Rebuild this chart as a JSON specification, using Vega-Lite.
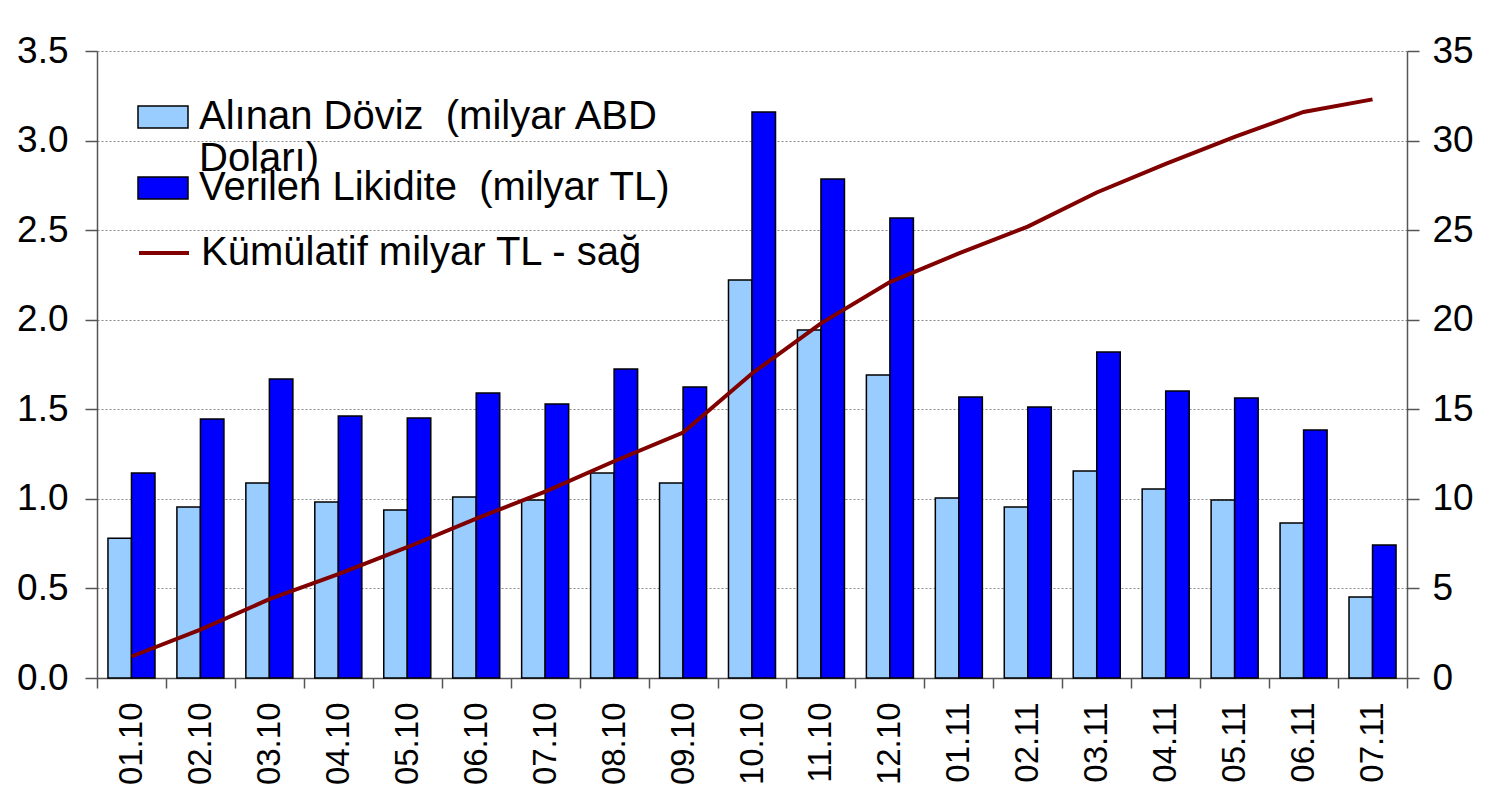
{
  "$schema": "https://vega.github.io/schema/vega-lite/v6.json",
  "autosize": "none",
  "width": 1310,
  "height": 627,
  "padding": {"left": 97, "top": 51, "right": 80, "bottom": 125},
  "background": "white",
  "config": {
    "view": {"stroke": null},
    "font": "Liberation Sans",
    "axis": {"labelFont": "Liberation Sans", "labelColor": "black", "domainColor": "#555", "tickColor": "#555", "domainWidth": 1.5, "tickWidth": 1.5},
    "legend": {"labelFont": "Liberation Sans", "title": null, "orient": "none", "labelFontSize": 40, "labelColor": "black", "labelOffset": 10, "labelLimit": 1000, "symbolSize": 2500, "symbolOpacity": 1}
  },
  "datasets": {
    "bars": [
      {"month": "01.10", "series": "Alınan Döviz  (milyar ABD Doları)", "value": 0.78},
      {"month": "01.10", "series": "Verilen Likidite  (milyar TL)", "value": 1.145},
      {"month": "02.10", "series": "Alınan Döviz  (milyar ABD Doları)", "value": 0.955},
      {"month": "02.10", "series": "Verilen Likidite  (milyar TL)", "value": 1.446},
      {"month": "03.10", "series": "Alınan Döviz  (milyar ABD Doları)", "value": 1.089},
      {"month": "03.10", "series": "Verilen Likidite  (milyar TL)", "value": 1.669},
      {"month": "04.10", "series": "Alınan Döviz  (milyar ABD Doları)", "value": 0.983},
      {"month": "04.10", "series": "Verilen Likidite  (milyar TL)", "value": 1.463},
      {"month": "05.10", "series": "Alınan Döviz  (milyar ABD Doları)", "value": 0.938},
      {"month": "05.10", "series": "Verilen Likidite  (milyar TL)", "value": 1.452},
      {"month": "06.10", "series": "Alınan Döviz  (milyar ABD Doları)", "value": 1.011},
      {"month": "06.10", "series": "Verilen Likidite  (milyar TL)", "value": 1.591},
      {"month": "07.10", "series": "Alınan Döviz  (milyar ABD Doları)", "value": 0.994},
      {"month": "07.10", "series": "Verilen Likidite  (milyar TL)", "value": 1.53},
      {"month": "08.10", "series": "Alınan Döviz  (milyar ABD Doları)", "value": 1.145},
      {"month": "08.10", "series": "Verilen Likidite  (milyar TL)", "value": 1.725},
      {"month": "09.10", "series": "Alınan Döviz  (milyar ABD Doları)", "value": 1.089},
      {"month": "09.10", "series": "Verilen Likidite  (milyar TL)", "value": 1.625},
      {"month": "10.10", "series": "Alınan Döviz  (milyar ABD Doları)", "value": 2.222},
      {"month": "10.10", "series": "Verilen Likidite  (milyar TL)", "value": 3.16},
      {"month": "11.10", "series": "Alınan Döviz  (milyar ABD Doları)", "value": 1.943},
      {"month": "11.10", "series": "Verilen Likidite  (milyar TL)", "value": 2.786},
      {"month": "12.10", "series": "Alınan Döviz  (milyar ABD Doları)", "value": 1.692},
      {"month": "12.10", "series": "Verilen Likidite  (milyar TL)", "value": 2.568},
      {"month": "01.11", "series": "Alınan Döviz  (milyar ABD Doları)", "value": 1.005},
      {"month": "01.11", "series": "Verilen Likidite  (milyar TL)", "value": 1.569},
      {"month": "02.11", "series": "Alınan Döviz  (milyar ABD Doları)", "value": 0.955},
      {"month": "02.11", "series": "Verilen Likidite  (milyar TL)", "value": 1.513},
      {"month": "03.11", "series": "Alınan Döviz  (milyar ABD Doları)", "value": 1.156},
      {"month": "03.11", "series": "Verilen Likidite  (milyar TL)", "value": 1.82},
      {"month": "04.11", "series": "Alınan Döviz  (milyar ABD Doları)", "value": 1.055},
      {"month": "04.11", "series": "Verilen Likidite  (milyar TL)", "value": 1.602},
      {"month": "05.11", "series": "Alınan Döviz  (milyar ABD Doları)", "value": 0.994},
      {"month": "05.11", "series": "Verilen Likidite  (milyar TL)", "value": 1.563},
      {"month": "06.11", "series": "Alınan Döviz  (milyar ABD Doları)", "value": 0.865},
      {"month": "06.11", "series": "Verilen Likidite  (milyar TL)", "value": 1.385},
      {"month": "07.11", "series": "Alınan Döviz  (milyar ABD Doları)", "value": 0.452},
      {"month": "07.11", "series": "Verilen Likidite  (milyar TL)", "value": 0.743}
    ],
    "cum": [
      {"month": "01.10", "cum": 1.2},
      {"month": "02.10", "cum": 2.7},
      {"month": "03.10", "cum": 4.4},
      {"month": "04.10", "cum": 5.8},
      {"month": "05.10", "cum": 7.3},
      {"month": "06.10", "cum": 8.9},
      {"month": "07.10", "cum": 10.4},
      {"month": "08.10", "cum": 12.1},
      {"month": "09.10", "cum": 13.7},
      {"month": "10.10", "cum": 17.0},
      {"month": "11.10", "cum": 19.8},
      {"month": "12.10", "cum": 22.1},
      {"month": "01.11", "cum": 23.7},
      {"month": "02.11", "cum": 25.2},
      {"month": "03.11", "cum": 27.1},
      {"month": "04.11", "cum": 28.7},
      {"month": "05.11", "cum": 30.2},
      {"month": "06.11", "cum": 31.6},
      {"month": "07.11", "cum": 32.3}
    ]
  },
  "layer": [
    {
      "data": {"name": "bars"},
      "encoding": {
        "x": {
          "field": "month", "type": "nominal", "sort": null,
          "scale": {"paddingInner": 0, "paddingOuter": 0},
          "axis": {"title": null, "labelAngle": -90, "labelFontSize": 33, "tickBand": "extent", "tickSize": 10, "labelPadding": 14, "grid": false}
        },
        "xOffset": {
          "field": "series", "type": "nominal",
          "scale": {"domain": ["Alınan Döviz  (milyar ABD Doları)", "Verilen Likidite  (milyar TL)"], "paddingInner": 0, "paddingOuter": 0.466}
        },
        "y": {
          "field": "value", "type": "quantitative",
          "scale": {"domain": [0, 3.5], "nice": false},
          "axis": {"title": null, "orient": "left", "values": [0, 0.5, 1, 1.5, 2, 2.5, 3, 3.5], "format": ".1f", "labelFontSize": 37, "tickSize": 12, "labelPadding": 17, "grid": true, "gridColor": "#888", "gridDash": [2, 2], "gridWidth": 1}
        }
      },
      "layer": [
        {
          "transform": [{"filter": "datum.series == 'Alınan Döviz  (milyar ABD Doları)'"}],
          "mark": {"type": "bar", "stroke": "black", "strokeWidth": 1.5},
          "encoding": {
            "fill": {
              "field": "series", "type": "nominal",
              "scale": {"domain": ["Alınan Döviz  (milyar ABD Doları)"], "range": ["#99CCFF"]},
              "legend": {
                "legendX": 40,
                "legendY": 40,
                "symbolType": "M-1,-0.44H1V0.44H-1Z",
                "symbolStrokeColor": "black",
                "symbolStrokeWidth": 1.5,
                "labelExpr": "['Alınan Döviz \u00a0(milyar ABD', 'Doları)']"
              }
            }
          }
        },
        {
          "transform": [{"filter": "datum.series == 'Verilen Likidite  (milyar TL)'"}],
          "mark": {"type": "bar", "stroke": "black", "strokeWidth": 1.5},
          "encoding": {
            "color": {
              "field": "series", "type": "nominal",
              "scale": {"domain": ["Verilen Likidite  (milyar TL)"], "range": ["#0000FF"]},
              "legend": {
                "legendX": 40,
                "legendY": 111,
                "symbolType": "M-1,-0.44H1V0.44H-1Z",
                "symbolStrokeColor": "black",
                "symbolStrokeWidth": 1.5,
                "labelExpr": "'Verilen Likidite \u00a0(milyar TL)'"
              }
            }
          }
        }
      ]
    },
    {
      "data": {"name": "cum"},
      "mark": {"type": "line", "strokeWidth": 4},
      "encoding": {
        "x": {"field": "month", "type": "nominal", "sort": null},
        "y": {
          "field": "cum", "type": "quantitative",
          "scale": {"domain": [0, 35], "nice": false},
          "axis": {"title": null, "orient": "right", "values": [0, 5, 10, 15, 20, 25, 30, 35], "labelFontSize": 37, "tickSize": 12, "labelPadding": 13, "grid": false}
        },
        "stroke": {
          "datum": "Kümülatif milyar TL - sağ",
          "scale": {"domain": ["Kümülatif milyar TL - sağ"], "range": ["#800000"]},
          "legend": {
            "legendX": 40,
            "legendY": 175,
            "symbolType": "stroke",
            "symbolStrokeWidth": 4
          }
        }
      }
    }
  ],
  "resolve": {"scale": {"y": "independent"}}
}
